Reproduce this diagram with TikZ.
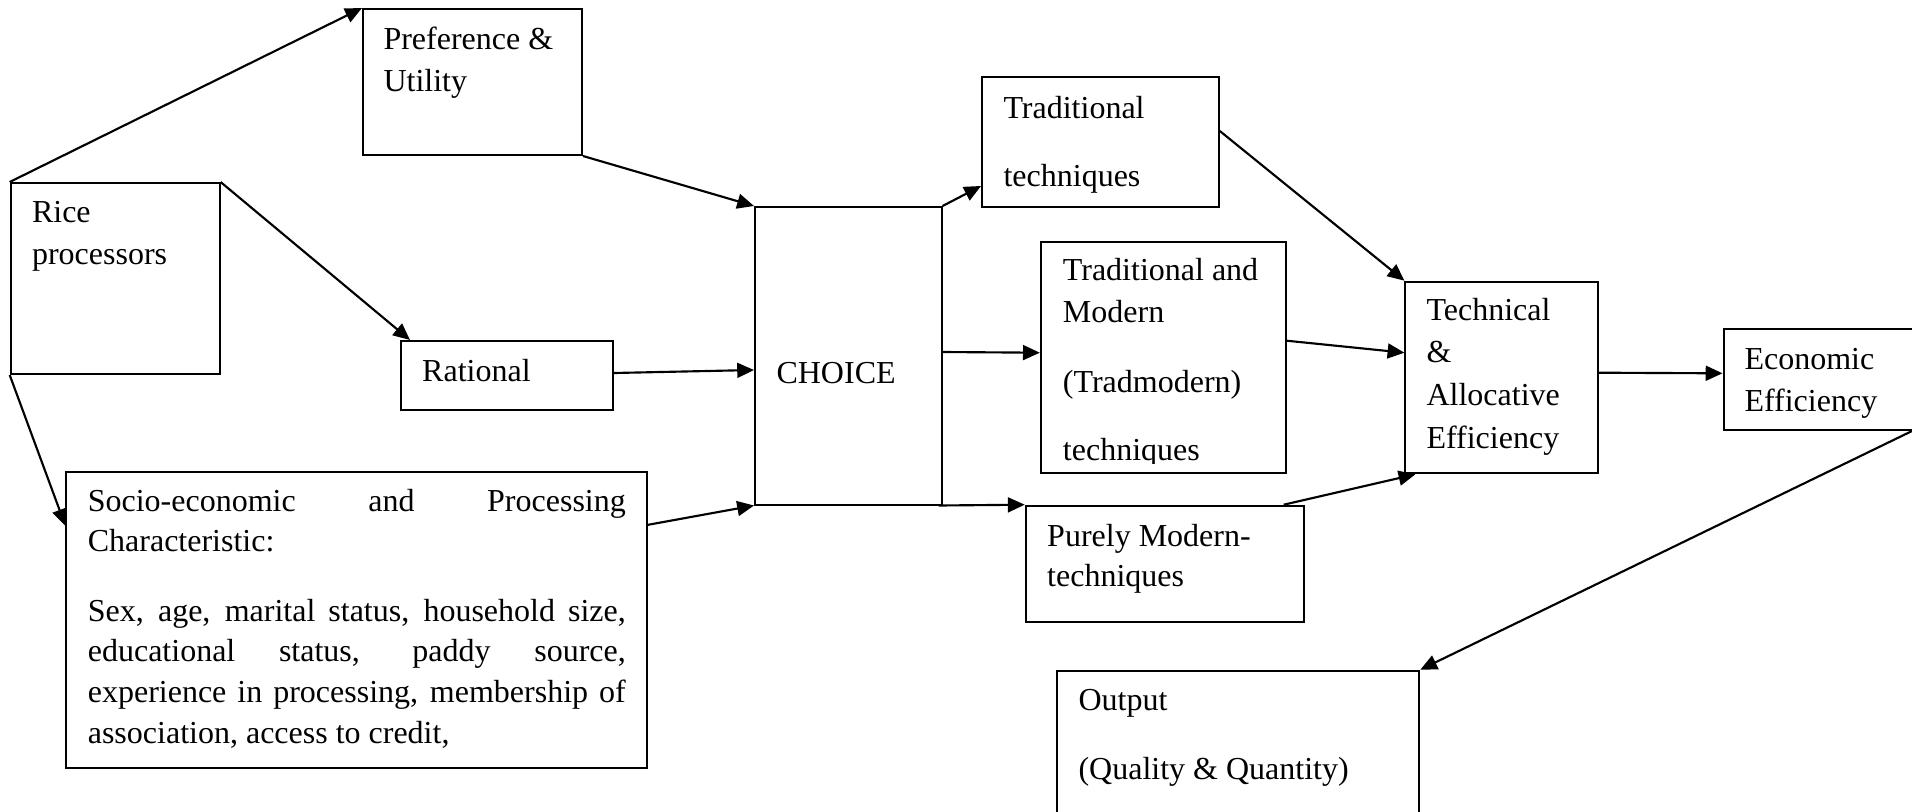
\documentclass[tikz,border=0pt]{standalone}
\usepackage{fontspec}
\setmainfont{Liberation Serif}
\usetikzlibrary{arrows.meta,fit,calc}
\newcommand{\myjustline}[1]{{\spaceskip=0.25em plus 1em\xspaceskip=0.25em plus 1em\makebox[201.75pt][s]{#1}}}
\begin{document}
\begin{tikzpicture}[x=0.375pt,y=-0.375pt,
  box/.style={draw=black,line width=0.75pt,inner sep=0pt,rectangle},
  lbl/.style={inner sep=0pt,anchor=base west,align=flush left,text width=#1,
              font=\fontsize{12pt}{16.1pt}\selectfont},
  jlbl/.style={inner sep=0pt,anchor=base west,align=flush left,text width=#1,
              font=\fontsize{12pt}{15.3pt}\selectfont},
  arr/.style={-{Triangle[length=6.3pt,width=5.6pt]},line width=0.8pt}]
\useasboundingbox (0,0) rectangle (1912,811);
\clip (0,0) rectangle (1912,811);
% boxes
\node[box,fit={(10.7,183)(219.6,374)}] (rice) {};
\node[box,fit={(363,9)(582,155)}] (pref) {};
\node[box,fit={(401,341)(613,410)}] (rational) {};
\node[box,fit={(66.4,471.8)(647,768)}] (socio) {};
\node[box,fit={(755,207)(941.6,504.5)}] (choice) {};
\node[box,fit={(982,77)(1218.8,207)}] (trad) {};
\node[box,fit={(1040.8,241.7)(1285.7,473)}] (tm) {};
\node[box,fit={(1025.7,505.7)(1304,621.7)}] (purely) {};
\node[box,fit={(1405.4,281.7)(1597.8,473.3)}] (tech) {};
\node[box,fit={(1723.5,329.3)(1916,430)}] (econ) {};
\node[box,fit={(1057.3,670.7)(1419.3,840)}] (output) {};
% texts
\node[lbl=80pt,font=\fontsize{12pt}{15.8pt}\selectfont] (ricet) at (31.5,222.7) {Rice\\processors};
\node[lbl=80pt] (preft) at (383,49) {Preference \&\\Utility};
\node[lbl=70pt] (rationalt) at (421.7,381) {Rational};
\node[lbl=60pt] (choicet) at (776,383) {CHOICE};
\node[lbl=80pt] (tradt) at (1003,118.3) {Traditional\\[9.5pt]techniques};
\begin{scope}
\clip (1040,242) rectangle (1286,463.5);
\node[lbl=85pt] (tmt) at (1062.4,280) {Traditional and\\Modern\\[10.1pt](Tradmodern)\\[9.4pt]techniques};
\end{scope}
\node[lbl=95pt,font=\fontsize{12pt}{15.3pt}\selectfont] (purelyt) at (1046.7,546) {Purely Modern-\\techniques};
\node[lbl=65pt,font=\fontsize{12pt}{16pt}\selectfont] (techt) at (1426,320) {Technical\\\&\\Allocative\\Efficiency};
\node[lbl=65pt,font=\fontsize{12pt}{15.9pt}\selectfont] (econt) at (1744,369) {Economic\\Efficiency};
\node[lbl=125pt] (outputt) at (1078,710) {Output\\[10.1pt](Quality \& Quantity)};
\node[jlbl=201.75pt] (sociot) at (87.3,511) {\myjustline{Socio-economic and Processing}\\
Characteristic:\\[10.7pt]
\myjustline{Sex, age, marital status, household size,}\\
\myjustline{educational status, paddy source,}\\
\myjustline{experience in processing, membership of}\\
association, access to credit,};
% connectors
\draw[arr] (rice.north west) -- (pref.north west);
\draw[arr] (rice.north east) -- ($(rational.north west)+(10,0)$);
\draw[arr] (pref.south east) -- (choice.north west);
\draw[arr] ($(rational.north east)+(0,33)$) -- ($(choice.north west)+(0,164)$);
\draw[arr] (rice.south west) -- ($(socio.north west)+(0,55)$);
\draw[arr] ($(socio.north east)+(0,54)$) -- (choice.south west);
\draw[arr] (choice.north east) -- ($(trad.south west)+(0,-22)$);
\draw[arr] ($(choice.north east)+(0,146)$) -- ($(tm.north west)+(0,112)$);
\draw[arr] ($(choice.south east)+(-4,0)$) -- (purely.north west);
\draw[arr] ($(trad.north east)+(0,55)$) -- (tech.north west);
\draw[arr] ($(tm.north east)+(0,100)$) -- ($(tech.north west)+(0,72)$);
\draw[arr] ($(purely.north west)+(259,0)$) -- ($(tech.south west)+(11,0)$);
\draw[arr] ($(tech.north east)+(0,92)$) -- ($(econ.north west)+(0,45)$);
\draw[arr] ($(econ.south east)+(-5,0)$) -- (output.north east);
\end{tikzpicture}
\end{document}
